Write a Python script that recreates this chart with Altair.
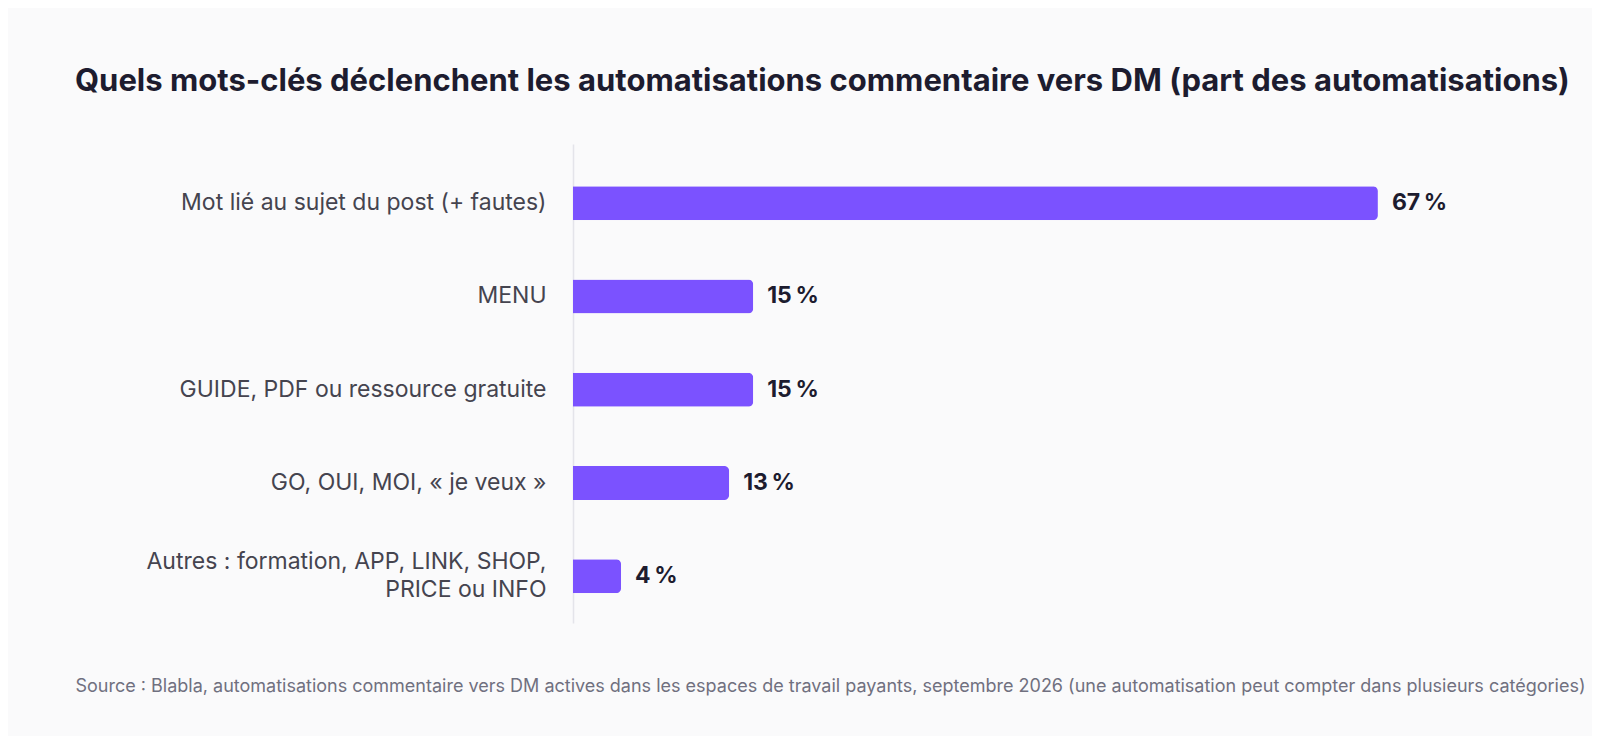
import altair as alt
import pandas as pd

categories = [
    "Mot lié au sujet du post (+ fautes)",
    "MENU",
    "GUIDE, PDF ou ressource gratuite",
    "GO, OUI, MOI, « je veux »",
    "Autres : formation, APP, LINK, SHOP, PRICE ou INFO",
]
values = [67, 15, 15, 13, 4]
value_labels = ["67\u202f%", "15\u202f%", "15\u202f%", "13\u202f%", "4\u202f%"]

title_text = "Quels mots-clés déclenchent les automatisations commentaire vers DM (part des automatisations)"
source_text = ("Source : Blabla, automatisations commentaire vers DM actives dans les espaces de travail payants, "
               "septembre 2026 (une automatisation peut compter dans plusieurs catégories)")

df = pd.DataFrame({"cat": categories, "val": values, "lab": value_labels})

FONT = "Inter"
BAR = "#7b52ff"
DARK = "#1d1c2f"

label_expr = ("indexof(datum.label, 'SHOP,') > 0 ? "
              "[substring(datum.label, 0, indexof(datum.label, 'SHOP,') + 5), "
              "substring(datum.label, indexof(datum.label, 'SHOP,') + 6)] : datum.label")

y_enc = alt.Y(
    "cat:N",
    sort=categories,
    scale=alt.Scale(paddingInner=0, paddingOuter=0.067, align=1),
    axis=alt.Axis(
        title=None,
        ticks=False,
        grid=False,
        domain=True,
        domainColor="#e4e4ea",
        domainWidth=1.5,
        labelFont=FONT,
        labelFontSize=23,
        labelFontWeight=400,
        labelColor="#45444f",
        labelPadding=27,
        labelLimit=500,
        labelLineHeight=28,
        labelExpr=label_expr,
        labelOffset={"condition": {"test": "indexof(datum.label, 'SHOP,') > 0", "value": -14}, "value": 0},
    ),
)

x_enc = alt.X(
    "val:Q",
    scale=alt.Scale(domain=[0, 75], nice=False),
    axis=alt.Axis(
        labels=False,
        ticks=False,
        grid=False,
        domain=False,
        title=source_text,
        titleFont=FONT,
        titleFontSize=18,
        titleFontWeight=400,
        titleColor="#70707f",
        titleAlign="left",
        titleBaseline="alphabetic",
        titleX=-498,
        titleY=68,
        titleLimit=3000,
    ),
)

bars = alt.Chart(df).mark_bar(color=BAR, size=34, cornerRadiusEnd=5).encode(x=x_enc, y=y_enc)

texts = alt.Chart(df).mark_text(
    align="left", baseline="middle", dx=14, font=FONT, fontSize=23, fontWeight=700, color=DARK
).encode(x="val:Q", y=alt.Y("cat:N", sort=categories), text="lab:N")

chart = (
    alt.layer(bars, texts)
    .properties(
        width=901,
        height=479,
        background="#fafafb",
        autosize=alt.AutoSizeParams(type="none"),
        padding={"left": 565, "top": 136, "right": 118, "bottom": 113},
        title=alt.TitleParams(
            text=title_text,
            anchor="start",
            frame="group",
            dx=-498,
            offset=46,
            font=FONT,
            fontSize=31,
            fontWeight=700,
            color=DARK,
            limit=4000,
        ),
    )
    .configure_view(stroke=None)
)

chart.save("out.html", embed_options={"renderer": "svg", "actions": False})
